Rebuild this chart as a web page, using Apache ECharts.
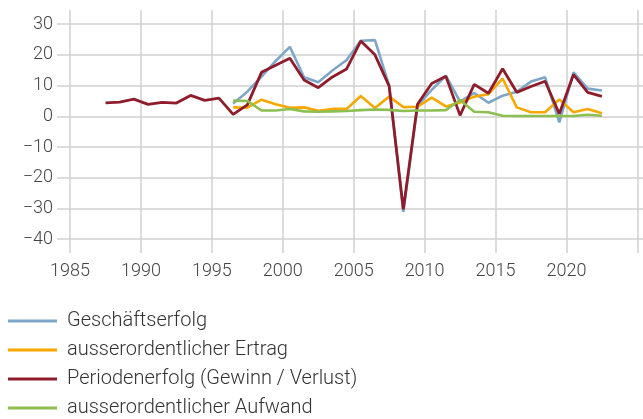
<!DOCTYPE html>
<html>
<head>
    <meta charset="utf-8">
    <title>Erfolgsrechnung</title>
    <script src="https://cdn.jsdelivr.net/npm/echarts@6/dist/echarts.min.js"></script>
    <style>
        html, body { margin: 0; padding: 0; background: #fff; }
    </style>
</head>
<body>
    <div id="chart" style="width: 643px;height:419px;"></div>
    <script type="text/javascript">
        // Jahre
        var years = [1987, 1988, 1989, 1990, 1991, 1992, 1993, 1994, 1995, 1996,
                     1997, 1998, 1999, 2000, 2001, 2002, 2003, 2004, 2005, 2006,
                     2007, 2008, 2009, 2010, 2011, 2012, 2013, 2014, 2015, 2016,
                     2017, 2018, 2019, 2020, 2021, 2022];
        // Werte (Geschaeftserfolg etc. erst ab 1996)
        var geschaeftserfolg = [null, null, null, null, null, null, null, null, null, 4.2,
                     8.0, 12.9, 18.0, 22.6, 12.7, 11.1, 14.9, 18.3, 24.6, 24.8,
                     10.0, -31.1, 3.5, 8.6, 13.2, 4.8, 7.6, 4.4, 6.7, 8.0,
                     11.3, 12.7, -2.0, 14.3, 9.0, 8.4];
        var ertrag = [null, null, null, null, null, null, null, null, null, 2.9,
                     2.8, 5.4, 3.9, 2.8, 2.9, 1.8, 2.4, 2.4, 6.6, 2.7,
                     6.4, 3.0, 3.1, 6.1, 3.2, 4.5, 6.4, 7.2, 12.3, 2.9,
                     1.3, 1.3, 5.5, 1.3, 2.4, 1.0];
        var periodenerfolg = [4.4, 4.6, 5.6, 3.9, 4.5, 4.3, 6.8, 5.2, 5.9, 0.6,
                     3.7, 14.3, 16.6, 18.9, 11.8, 9.3, 12.8, 15.4, 24.5, 20.0,
                     9.8, -30.3, 3.9, 10.7, 13.0, 0.3, 10.4, 7.5, 15.5, 7.8,
                     9.7, 11.4, 0.8, 13.6, 7.8, 6.5];
        var aufwand = [null, null, null, null, null, null, null, null, null, 5.1,
                     5.0, 1.9, 1.9, 2.4, 1.6, 1.5, 1.6, 1.7, 2.0, 2.2,
                     2.1, 1.7, 1.9, 1.9, 2.0, 5.3, 1.5, 1.3, 0.2, 0.1,
                     0.1, 0.1, 0.1, 0.1, 0.5, 0.2];

        // Punkte liegen jeweils in der Jahresmitte
        function pairs(values) {
            var out = [];
            for (var i = 0; i < years.length; i++) {
                out.push([years[i] + 0.5, values[i]]);
            }
            return out;
        }

        var chart = echarts.init(document.getElementById('chart'));
        var font = 'Roboto, "Noto Sans", sans-serif';
        var option = {
            animation: false,
            textStyle: { fontFamily: font },
            legend: {
                orient: 'vertical',
                left: 8,
                top: 311,
                height: 150,
                padding: 0,
                icon: 'rect',
                itemWidth: 49,
                itemHeight: 3,
                itemGap: 9,
                textStyle: {
                    fontFamily: font,
                    fontSize: 20,
                    fontWeight: 300,
                    color: '#333',
                    lineHeight: 20,
                    padding: [0, 0, 0, 5]
                },
                data: ['Geschäftserfolg', 'ausserordentlicher Ertrag', 'Periodenerfolg (Gewinn / Verlust)', 'ausserordentlicher Aufwand']
            },
            grid: {
                left: 57,
                right: 0,
                top: 10,
                bottom: 166
            },
            xAxis: {
                type: 'value',
                min: 1984.08,
                max: 2025.4,
                splitNumber: 8,
                axisLine: { show: false },
                axisTick: { show: false },
                axisLabel: {
                    showMinLabel: false,
                    showMaxLabel: false,
                    margin: 9,
                    fontSize: 18,
                    fontWeight: 300,
                    color: '#444',
                    // letzte Beschriftung (2025) bleibt leer
                    formatter: function (v) { return v > 2020 ? '' : String(v); }
                },
                splitLine: {
                    showMinLine: false,
                    showMaxLine: false,
                    lineStyle: { color: '#d0d0d0', width: 1.5 }
                }
            },
            yAxis: {
                type: 'value',
                min: -44.5,
                max: 34.6,
                splitNumber: 8,
                axisLine: { show: false },
                axisTick: { show: false },
                axisLabel: {
                    showMinLabel: false,
                    showMaxLabel: false,
                    margin: 4,
                    fontSize: 18,
                    fontWeight: 300,
                    color: '#444',
                    formatter: function (v) { return String(v).replace('-', '\u2212'); }
                },
                splitLine: {
                    showMinLine: false,
                    showMaxLine: false,
                    lineStyle: { color: '#d0d0d0', width: 1.5 }
                }
            },
            series: [
                {
                    name: 'Geschäftserfolg',
                    type: 'line',
                    symbol: 'none',
                    color: '#7ea6c9',
                    lineStyle: { width: 2.6 },
                    data: pairs(geschaeftserfolg)
                },
                {
                    name: 'ausserordentlicher Ertrag',
                    type: 'line',
                    symbol: 'none',
                    color: '#f7a800',
                    lineStyle: { width: 2.6 },
                    data: pairs(ertrag)
                },
                {
                    name: 'Periodenerfolg (Gewinn / Verlust)',
                    type: 'line',
                    symbol: 'none',
                    color: '#8e1c2a',
                    lineStyle: { width: 2.8 },
                    data: pairs(periodenerfolg)
                },
                {
                    name: 'ausserordentlicher Aufwand',
                    type: 'line',
                    symbol: 'none',
                    color: '#8dbf50',
                    lineStyle: { width: 2.6 },
                    data: pairs(aufwand)
                }
            ]
        };
        chart.setOption(option);
    </script>
</body>
</html>
